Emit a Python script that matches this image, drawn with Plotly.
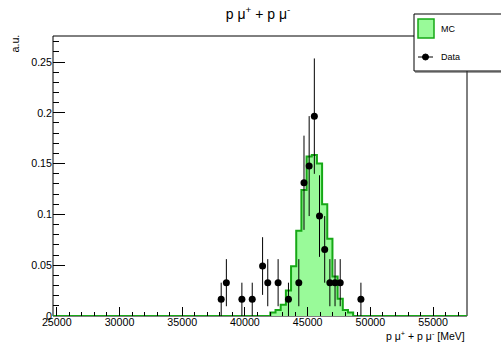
import numpy as np
import plotly.graph_objects as go

# ---- binning ----
X_MIN = 24700
X_MAX = 57700
N_BINS = 80

# ---- MC histogram (normalised), non-empty bins starting at bin index 42 ----
mc_first_bin = 42
mc_values = [0.0035, 0.006, 0.011, 0.025, 0.049, 0.084, 0.124, 0.157,
             0.1585, 0.150, 0.110, 0.076, 0.039, 0.017, 0.006, 0.0035]

# ---- Data (counts per bin) ----
data_bins = [32, 33, 36, 38, 40, 41, 43, 45, 47, 48, 49, 50, 51, 52, 53, 54, 55, 59]
data_counts = [1, 2, 1, 1, 3, 2, 2, 1, 2, 8, 9, 12, 6, 4, 2, 2, 2, 1]

# tick labels
x_ticks = [25000, 30000, 35000, 40000, 45000, 50000, 55000]
y_ticks = [0, 0.05, 0.1, 0.15, 0.2, 0.25]

Y_MAX = 0.2756

# ---- derived ----
edges = np.linspace(X_MIN, X_MAX, N_BINS + 1)
width = (X_MAX - X_MIN) / N_BINS
mc_full = np.zeros(N_BINS)
mc_full[mc_first_bin:mc_first_bin + len(mc_values)] = mc_values
mc_y = list(mc_full) + [mc_full[-1]]

n_tot = sum(data_counts)
d_counts = np.array(data_counts, dtype=float)
data_x = X_MIN + (np.array(data_bins) + 0.5) * width
data_y = d_counts / n_tot
data_err = np.sqrt(d_counts) / n_tot

FONT = "Liberation Sans, Arial, Helvetica, sans-serif"
FILL = "rgb(153,250,153)"
LINE = "rgb(22,168,22)"

fig = go.Figure()
fig.add_trace(go.Scatter(
    x=edges, y=mc_y, mode="lines", line_shape="hv",
    line=dict(color=LINE, width=2), fill="tozeroy", fillcolor=FILL,
    name="MC", showlegend=False, hoverinfo="skip"))
fig.add_trace(go.Scatter(
    x=data_x, y=data_y, mode="markers",
    marker=dict(color="black", size=7),
    error_y=dict(type="data", array=data_err, color="black", thickness=1, width=0),
    name="Data", showlegend=False))

L, R, T, B = 53, 34, 36, 26
W, H = 501, 342
pw, ph = W - L - R, H - T - B

def px(xp):
    return (xp - L) / pw

def py(yp):
    return (H - B - yp) / ph

shapes = [
    # frame (below traces so the green baseline shows on top)
    dict(type="rect", xref="paper", yref="paper", x0=0, x1=1, y0=0, y1=1,
         line=dict(color="black", width=1), fillcolor="rgba(0,0,0,0)", layer="below"),
    # legend box
    dict(type="rect", xref="paper", yref="paper", x0=px(414), x1=px(512),
         y0=py(71), y1=py(14), line=dict(color="black", width=1),
         fillcolor="white", layer="above"),
    dict(type="line", xref="paper", yref="paper", x0=px(415), x1=px(512),
         y0=py(72), y1=py(72), line=dict(color="rgb(60,60,60)", width=1), layer="above"),
    # MC symbol
    dict(type="rect", xref="paper", yref="paper", x0=px(418), x1=px(434),
         y0=py(38), y1=py(19), line=dict(color=LINE, width=1.5),
         fillcolor=FILL, layer="above"),
    # Data symbol
    dict(type="line", xref="paper", yref="paper", x0=px(418), x1=px(433),
         y0=py(57), y1=py(57), line=dict(color="black", width=1), layer="above"),
    dict(type="circle", xref="paper", yref="paper", x0=px(422.5), x1=px(428.5),
         y0=py(60), y1=py(54), line=dict(color="black", width=1),
         fillcolor="black", layer="above"),
]

annotations = [
    dict(text="MC", xref="paper", yref="paper", x=px(438.5), y=py(28.5),
         xanchor="left", yanchor="middle", showarrow=False,
         font=dict(family=FONT, size=9, color="black")),
    dict(text="Data", xref="paper", yref="paper", x=px(438.5), y=py(57),
         xanchor="left", yanchor="middle", showarrow=False,
         font=dict(family=FONT, size=9, color="black")),
    dict(text="p μ<sup>+</sup> + p μ<sup>-</sup> [MeV]", xref="paper", yref="paper",
         x=px(467), y=py(335), xanchor="right", yanchor="middle", showarrow=False,
         font=dict(family=FONT, size=10.5, color="black")),
    dict(text="a.u.", xref="paper", yref="paper", x=px(14.5), y=py(33),
         xanchor="center", yanchor="top", textangle=-90, showarrow=False,
         font=dict(family=FONT, size=10.7, color="black")),
]

fig.update_layout(
    width=W, height=H,
    margin=dict(l=L, r=R, t=T, b=B, pad=0),
    paper_bgcolor="white", plot_bgcolor="white",
    showlegend=False,
    title=dict(text="p μ<sup>+</sup> + p μ<sup>-</sup>", x=258 / W, xanchor="center",
               xref="container", yref="container", y=1 - 14 / H, yanchor="middle",
               font=dict(family=FONT, size=14, color="black")),
    shapes=shapes, annotations=annotations,
    font=dict(family=FONT, color="black"),
)
fig.update_xaxes(
    range=[X_MIN, X_MAX], tickmode="array", tickvals=x_ticks,
    ticktext=[str(v) for v in x_ticks],
    ticks="inside", ticklen=9, tickwidth=1, tickcolor="black",
    minor=dict(ticks="inside", ticklen=4.5, dtick=1000, tick0=25000,
               tickcolor="black", tickwidth=1),
    showgrid=False, zeroline=False, showline=False,
    ticklabelstandoff=-2,
    tickfont=dict(family=FONT, size=10.7, color="black"),
)
fig.update_yaxes(
    range=[0, Y_MAX], tickmode="array", tickvals=y_ticks,
    ticktext=[("%g" % v) for v in y_ticks],
    ticks="inside", ticklen=12, tickwidth=1, tickcolor="black",
    minor=dict(ticks="inside", ticklen=6, dtick=0.01, tick0=0,
               tickcolor="black", tickwidth=1),
    showgrid=False, zeroline=False, showline=False,
    tickfont=dict(family=FONT, size=10.7, color="black"),
)

fig.write_html(
    "out.html",
    config={"displayModeBar": False},
    post_script="document.body.style.margin='0';document.body.style.overflow='hidden';",
)
